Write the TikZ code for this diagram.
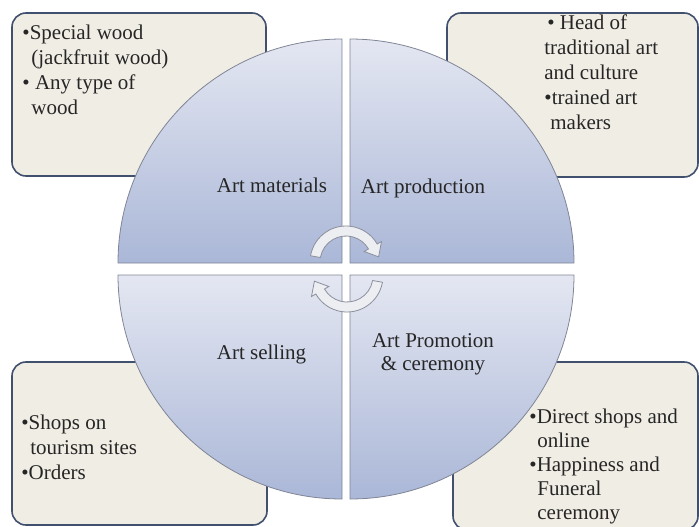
\documentclass[tikz,border=0pt]{standalone}
\usepackage{fontspec}
\setmainfont{Liberation Serif}
\usepackage{tikz}
\usetikzlibrary{positioning}
\definecolor{boxfill}{RGB}{240,237,228}
\definecolor{boxline}{RGB}{65,80,110}
\definecolor{quadtop}{RGB}{228,231,242}
\definecolor{quadbot}{RGB}{170,183,215}
\definecolor{quadline}{RGB}{128,133,150}
\definecolor{cycfill}{RGB}{237,238,242}
\definecolor{cycline}{RGB}{140,143,156}
\tikzstyle{infobox} = [rectangle, rounded corners=14pt, draw=boxline, line width=1.6pt, fill=boxfill]
\tikzstyle{quad} = [draw=quadline, line width=0.8pt, top color=quadtop, bottom color=quadbot]
\tikzstyle{listtext} = [anchor=north west, inner sep=0pt, align=left, text=black!85, font=\fontsize{21}{25}\selectfont]
\tikzstyle{quadtext} = [inner sep=0pt, align=center, text=black!85, font=\fontsize{21}{23}\selectfont]
\tikzstyle{cycarrow} = [draw=cycline, line width=0.8pt, fill=cycfill]

\begin{document}
\begin{tikzpicture}[x=1pt, y=-1pt]
	\clip (0,0) rectangle (699,527);
	% boxes behind the circle
	\node (matbox) [infobox, minimum width=254pt, minimum height=163pt] at (139,94.5) {};
	\node (prodbox) [infobox, minimum width=251pt, minimum height=164pt] at (572.5,95) {};
	\node (sellbox) [infobox, minimum width=255pt, minimum height=163pt] at (139.5,443.5) {};
	\node (promobox) [infobox, minimum width=245pt, minimum height=168pt] at (575.5,446) {};
	% four quarters
	\draw [quad] (342,263) -- ++(-224,0) arc [start angle=180, end angle=270, radius=224] -- cycle;
	\draw [quad] (350,263) -- ++(0,-224) arc [start angle=270, end angle=360, radius=224] -- cycle;
	\draw [quad] (350,275) -- ++(224,0) arc [start angle=0, end angle=90, radius=224] -- cycle;
	\draw [quad] (342,275) -- ++(0,224) arc [start angle=90, end angle=180, radius=224] -- cycle;
	% circular arrows
	\draw [cycarrow, shift={(346,262)}] (190:36) arc [start angle=190, end angle=330, radius=36] -- (330:41) -- (351:33) -- (330:21) -- (330:26) arc [start angle=330, end angle=190, radius=26] -- cycle;
	\draw [cycarrow, shift={(347,276)}] (10:36) arc [start angle=10, end angle=150, radius=36] -- (150:41) -- (171:33) -- (150:21) -- (150:26) arc [start angle=150, end angle=10, radius=26] -- cycle;
	% quarter labels
	\node (matlabel) [quadtext, anchor=base] at (272,192) {Art materials};
	\node (prodlabel) [quadtext, anchor=base] at (423,193) {Art production};
	\node (selllabel) [quadtext, anchor=base] at (261.5,359) {Art selling};
	\node (promolabel) [quadtext, anchor=north] at (433,333.7) {Art Promotion\\\& ceremony};
	% box texts
	\node (matlist) [listtext] at ([shift={(11,12.7)}]matbox.north west) {\textbullet Special wood\\\hspace*{9pt}(jackfruit wood)\\\textbullet{} Any type of\\\hspace*{9pt}wood};
	\node (prodlist) [listtext] at ([shift={(98,2.7)}]prodbox.north west) {\hspace*{3pt}\textbullet{} Head of\\traditional art\\and culture\\\textbullet trained art\\\hspace*{6pt}makers};
	\node (selllist) [listtext] at ([shift={(10,53.7)}]sellbox.north west) {\textbullet Shops on\\\hspace*{9pt}tourism sites\\\textbullet Orders};
	\node (promolist) [listtext, font=\fontsize{21}{24}\selectfont] at ([shift={(77,47.7)}]promobox.north west) {\textbullet Direct shops and\\\hspace*{8pt}online\\\textbullet Happiness and\\\hspace*{8pt}Funeral\\\hspace*{8pt}ceremony};
\end{tikzpicture}
\end{document}
